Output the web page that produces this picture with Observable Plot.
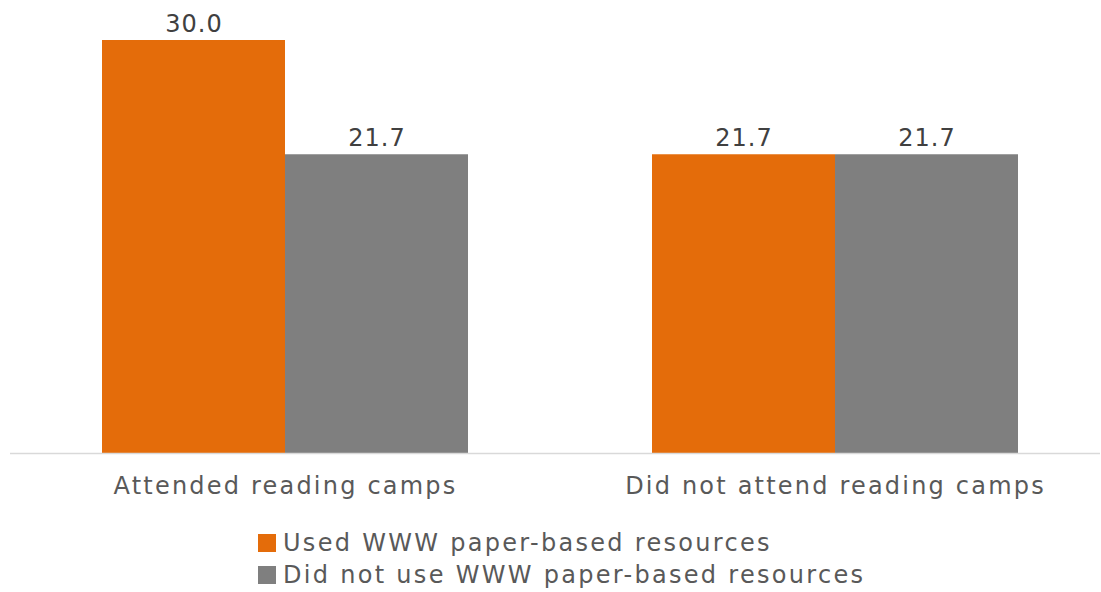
<!DOCTYPE html>
<html>
<head>
<meta charset="utf-8">
<script src="https://cdn.jsdelivr.net/npm/d3@7"></script>
<script src="https://cdn.jsdelivr.net/npm/@observablehq/plot@0.6"></script>
<style>
  html, body { margin: 0; padding: 0; background: #fff; }
  body { width: 1101px; height: 592px; overflow: hidden; font-family: "DejaVu Sans", sans-serif; }
  #legend { padding-left: 258px; margin-top: 22px; }
  .row { display: flex; align-items: center; height: 32px; font-size: 24px; color: #595959; letter-spacing: 2.3px; }
  .sw { width: 18px; height: 18px; margin-right: 7px; }
  g[aria-label="x-axis tick label"] text { letter-spacing: 2.2px; }
  g[aria-label="text"] text { letter-spacing: 1px; }
</style>
</head>
<body>
<div id="chart"></div>
<div id="legend"></div>
<script>
const categories = ["Attended reading camps", "Did not attend reading camps"];
const series = ["Used WWW paper-based resources", "Did not use WWW paper-based resources"];
const usedValues = [30.0, 21.7];
const notUsedValues = [21.7, 21.7];
const colors = ["#E46C0A", "#7F7F7F"];

const data = [];
categories.forEach((c, i) => {
  data.push({category: c, series: series[0], value: usedValues[i]});
  data.push({category: c, series: series[1], value: notUsedValues[i]});
});
const used = data.filter(d => d.series === series[0]);
const notUsed = data.filter(d => d.series === series[1]);

const half = 183;
const font = "DejaVu Sans, sans-serif";

const chart = Plot.plot({
  width: 1101,
  height: 505,
  marginLeft: 10,
  marginRight: 1,
  marginTop: 40,
  marginBottom: 52,
  style: {fontFamily: font, background: "#fff"},
  x: {domain: categories, paddingInner: 0.3345, paddingOuter: 0.158, align: 0.53, label: null},
  y: {domain: [0, 30], axis: null},
  color: {domain: series, range: colors},
  marks: [
    Plot.barY(used, {x: "category", y: "value", fill: "series", insetRight: half, insetLeft: 0}),
    Plot.barY(notUsed, {x: "category", y: "value", fill: "series", insetLeft: half, insetRight: 0}),
    Plot.ruleY([0], {stroke: "#D9D9D9", strokeWidth: 1.5}),
    Plot.text(used, {x: "category", y: "value", text: d => d.value.toFixed(1), dx: -half / 2, dy: -16, fontSize: 24, fill: "#404040"}),
    Plot.text(notUsed, {x: "category", y: "value", text: d => d.value.toFixed(1), dx: half / 2, dy: -16, fontSize: 24, fill: "#404040"}),
    Plot.axisX({tickSize: 0, tickPadding: 23, fontSize: 24, color: "#595959", label: null})
  ]
});
document.getElementById("chart").appendChild(chart);

const legend = document.getElementById("legend");
series.forEach((s, i) => {
  const row = document.createElement("div");
  row.className = "row";
  const sw = document.createElement("div");
  sw.className = "sw";
  sw.style.background = colors[i];
  const t = document.createElement("span");
  t.textContent = s;
  row.appendChild(sw);
  row.appendChild(t);
  legend.appendChild(row);
});
</script>
</body>
</html>
